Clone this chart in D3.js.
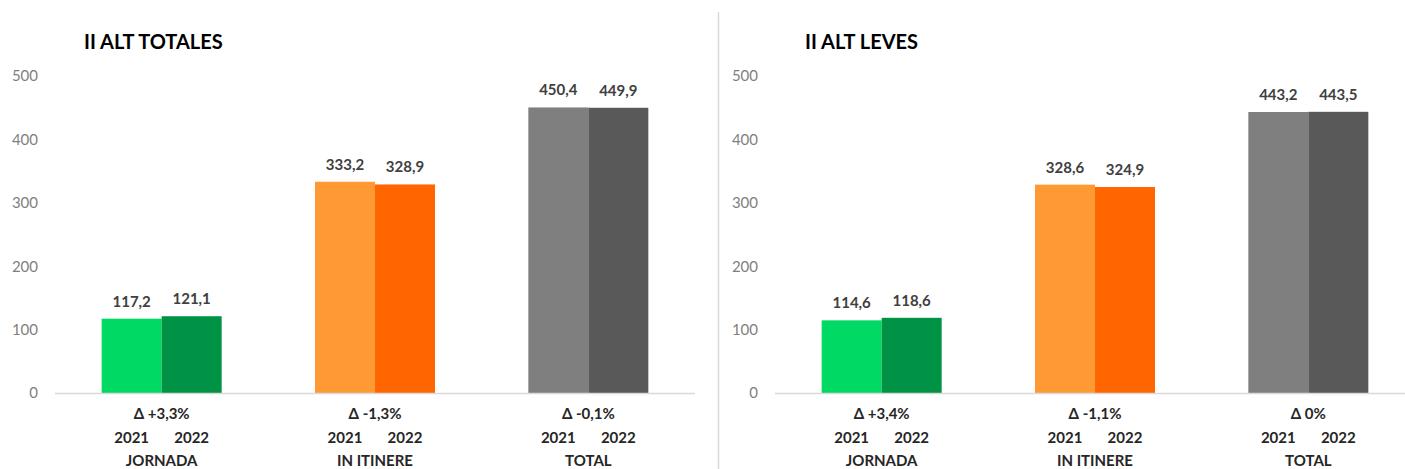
<!DOCTYPE html>
<html>
<head>
<meta charset="utf-8">
<script src="https://cdn.jsdelivr.net/npm/d3@7"></script>
<style>
  html, body { margin: 0; padding: 0; background: #fff; }
  svg { display: block; font-family: Lato, "Open Sans", sans-serif; }
</style>
</head>
<body>
<svg id="chart" width="1405" height="469"></svg>
<script>
const categories = ["JORNADA", "IN ITINERE", "TOTAL"];
const years = ["2021", "2022"];
const yTicks = [0, 100, 200, 300, 400, 500];

const totalesTitle = "II ALT TOTALES";
const totales2021 = [117.2, 333.2, 450.4];
const totales2022 = [121.1, 328.9, 449.9];
const totalesDelta = ["Δ +3,3%", "Δ -1,3%", "Δ -0,1%"];

const levesTitle = "II ALT LEVES";
const leves2021 = [114.6, 328.6, 443.2];
const leves2022 = [118.6, 324.9, 443.5];
const levesDelta = ["Δ +3,4%", "Δ -1,1%", "Δ 0%"];

const barColors = [["#00D964", "#009245"], ["#FF9933", "#FF6600"], ["#7F7F7F", "#595959"]];

const svg = d3.select("#chart");

const panels = [
  { title: totalesTitle, v2021: totales2021, v2022: totales2022, delta: totalesDelta, x0: 55, x1: 695, titleX: 84 },
  { title: levesTitle, v2021: leves2021, v2022: leves2022, delta: levesDelta, x0: 775, x1: 1415, titleX: 805 }
];

const y = d3.scaleLinear().domain([0, 500]).range([393, 76]);

// divider
svg.append("line").attr("x1", 718.5).attr("x2", 718.5).attr("y1", 12).attr("y2", 469)
  .attr("stroke", "#d9d9d9").attr("stroke-width", 1.5);

panels.forEach(p => {
  const g = svg.append("g");
  const x = d3.scaleBand().domain(categories).range([p.x0, p.x1])
    .paddingInner(0.4375).paddingOuter(0.21875);
  const xs = d3.scaleBand().domain(years).range([0, x.bandwidth()]);

  g.append("text").attr("x", p.titleX).attr("y", 49)
    .attr("font-size", 20).attr("font-weight", 700).attr("fill", "#000")
    .text(p.title);

  // y axis labels
  const yAxis = d3.axisLeft(y).tickValues(yTicks).tickSize(0).tickPadding(0);
  const ya = g.append("g").attr("transform", `translate(${p.x0 - 17},0)`).call(yAxis);
  ya.select(".domain").remove();
  ya.selectAll("text").attr("font-size", 15).attr("fill", "#7f7f7f")
    .attr("font-family", "Lato, 'Open Sans', sans-serif");

  const rows = categories.map((c, i) => ({ c, i, vals: [p.v2021[i], p.v2022[i]] }));

  rows.forEach(r => {
    const gx = x(r.c);
    r.vals.forEach((v, j) => {
      g.append("rect")
        .attr("x", gx + xs(years[j]))
        .attr("y", y(v))
        .attr("width", xs.bandwidth())
        .attr("height", y(0) - y(v))
        .attr("fill", barColors[r.i][j]);
      g.append("text")
        .attr("x", gx + xs(years[j]) + xs.bandwidth() / 2)
        .attr("y", y(v) - 12)
        .attr("text-anchor", "middle")
        .attr("font-size", 15).attr("font-weight", 700).attr("fill", "#404040")
        .text(d3.format(".1f")(v).replace(".", ","));
      g.append("text")
        .attr("x", gx + xs(years[j]) + xs.bandwidth() / 2)
        .attr("y", 443)
        .attr("text-anchor", "middle")
        .attr("font-size", 15).attr("font-weight", 700).attr("fill", "#262626")
        .text(years[j]);
    });
    g.append("text")
      .attr("x", gx + x.bandwidth() / 2).attr("y", 419)
      .attr("text-anchor", "middle")
      .attr("font-size", 15).attr("font-weight", 700).attr("fill", "#262626")
      .text(p.delta[r.i]);
    g.append("text")
      .attr("x", gx + x.bandwidth() / 2).attr("y", 466)
      .attr("text-anchor", "middle")
      .attr("font-size", 15).attr("font-weight", 700).attr("fill", "#262626")
      .text(r.c);
  });

  // baseline
  g.append("line").attr("x1", p.x0).attr("x2", p.x1)
    .attr("y1", y(0) + 0.5).attr("y2", y(0) + 0.5)
    .attr("stroke", "#d9d9d9").attr("stroke-width", 1.5);
});
</script>
</body>
</html>
